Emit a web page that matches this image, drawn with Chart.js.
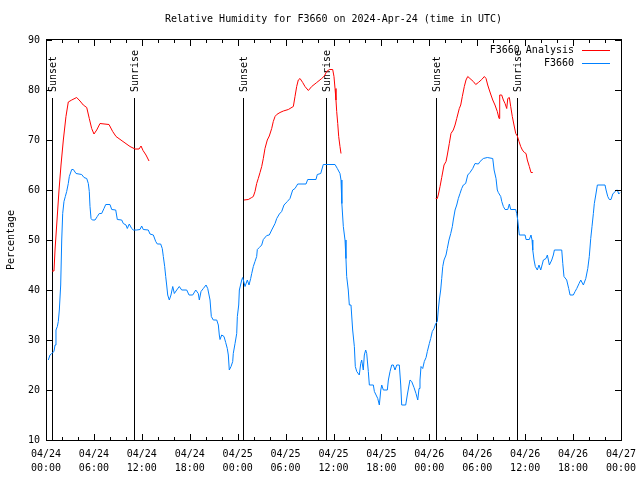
<!DOCTYPE html>
<html><head><meta charset="utf-8">
<script src="https://cdn.jsdelivr.net/npm/chart.js@4.4.1/dist/chart.umd.min.js"></script>
<style>html,body{margin:0;padding:0;background:#fff;overflow:hidden}canvas{display:block}</style>
</head><body><canvas id="c" width="640" height="480"></canvas>
<script>
const titleText = "Relative Humidity for F3660 on 2024-Apr-24 (time in UTC)";
const yTitle = "Percentage";
const dayLabels = ["04/24","04/25","04/26","04/27"];
const timeLabels = ["00:00","06:00","12:00","18:00"];
const seriesNames = ["F3660 Analysis","F3660"];
const seriesColors = ["#ff0000","#0080ff"];
const sunTimes = [0.69, 11.06, 24.71, 35.02, 48.80, 59.02];
const sunNames = ["Sunset","Sunrise","Sunset","Sunrise","Sunset","Sunrise"];

// hours since 04/24 00:00 UTC ; null RH = gap between analysis runs
const analysisHours = [
 0.75,1.0,1.13,1.38,1.63,1.88,2.17,2.5,2.79,3.22,3.84,4.26,4.67,5.10,5.42,5.72,6.01,6.35,6.76,7.89,8.35,8.77,9.64,10.52,11.15,11.65,11.90,12.15,12.52,12.90,
 18,
 24.79,25.33,25.76,25.96,26.17,26.38,26.58,26.80,27.01,27.21,27.42,27.71,27.96,28.26,28.46,28.68,28.89,29.30,29.72,30.34,30.97,31.18,31.39,31.59,31.81,32.14,32.43,32.85,33.27,33.90,34.52,34.85,35.15,35.48,35.90,36.06,36.19,36.31,36.40,36.53,36.65,36.81,36.94,
 42,
 48.80,49.00,49.12,49.34,49.55,49.84,50.09,50.25,50.50,50.71,51.00,51.22,51.43,51.75,51.93,52.13,52.38,52.59,52.81,53.09,53.51,53.81,54.14,54.56,54.89,55.10,55.31,55.51,55.72,55.94,56.22,56.51,56.73,56.81,57.06,57.27,57.48,57.69,57.82,58.02,58.19,58.39,58.60,58.82,59.02,59.23,59.44,59.65,59.90,60.11,60.27,60.52,60.73,60.95
];
const analysisRH = [
 43.8,43.8,48,54,60,65,70,74.7,77.6,78,78.5,77.8,77,76.5,74.3,72.3,71.2,72,73.3,73.1,71.7,70.7,69.7,68.7,68.2,68.2,68.8,67.9,67,65.8,
 null,
 58,58.1,58.5,58.7,59.7,61.3,62.3,63.5,64.7,66.3,68.3,70,70.8,72.3,73.7,74.7,75.1,75.5,75.8,76.1,76.7,78.7,80.7,82,82.3,81.5,80.7,79.9,80.7,81.5,82.3,82.8,83.7,84.1,84.1,82.7,80.3,78,75.7,73.3,70.7,68.7,67.3,
 null,
 58.3,58.3,59,60.7,62.5,65,65.7,67,69.3,71.3,72,73,74.3,76.3,77,78.7,80.7,82,82.7,82.3,81.7,81.1,81.5,82.1,82.7,82.3,81,80,79,78,77,75.7,74.3,79,79,78,77.3,76.3,78.3,78.5,76.7,74.7,73,71.3,70.8,69.7,68.7,68,67.5,67.3,66,64.7,63.5,63.5
];

const obsHours = [
 0.29,0.50,0.71,1.00,1.13,1.25,1.42,1.54,1.67,1.84,1.97,2.09,2.25,2.42,2.59,2.79,2.92,3.22,3.42,3.76,4.47,4.76,5.10,5.30,5.42,5.51,5.64,5.80,6.14,6.42,6.67,6.97,7.26,7.48,8.01,8.23,8.73,8.93,9.48,9.68,10.02,10.18,10.43,10.73,10.93,11.36,11.77,11.98,12.18,12.81,13.02,13.44,13.74,13.94,14.36,14.56,14.69,14.86,14.99,15.11,15.24,15.44,15.65,15.87,16.07,16.37,16.69,16.99,17.62,17.91,18.37,18.75,19.07,19.20,19.41,19.70,20.04,20.25,20.54,20.70,20.95,21.38,21.58,21.70,21.79,22.00,22.29,22.50,22.70,22.83,22.95,23.17,23.38,23.45,23.67,23.88,23.96,24.13,24.21,24.29,24.51,24.63,24.92,25.21,25.42,25.63,25.76,25.96,26.17,26.38,26.46,26.71,27.01,27.21,27.64,27.96,28.26,28.68,28.89,29.22,29.51,29.80,30.22,30.55,30.89,31.18,31.52,32.56,32.77,33.81,33.97,34.40,34.72,36.19,36.48,36.81,36.94,37.03,37.06,37.23,37.44,37.56,37.65,37.85,37.98,38.19,38.40,38.61,38.73,38.91,39.23,39.41,39.53,39.73,39.86,40.03,40.16,40.36,40.49,40.99,41.12,41.33,41.54,41.74,41.92,42.04,42.24,42.74,42.87,43.08,43.29,43.49,43.70,43.92,44.24,44.42,44.54,45.04,45.24,45.46,45.58,45.79,46.08,46.33,46.55,46.71,46.83,46.96,47.17,47.37,47.59,47.75,48.00,48.17,48.37,48.59,48.80,49.00,49.12,49.25,49.42,49.55,49.68,49.84,50.09,50.25,50.46,50.68,50.88,51.00,51.22,51.43,51.63,51.84,52.05,52.26,52.55,52.81,53.09,53.43,53.72,54.14,54.35,54.76,55.26,55.94,56.11,56.35,56.51,56.64,56.94,57.07,57.27,57.48,57.82,58.02,58.19,58.82,58.94,59.07,59.20,59.27,59.99,60.11,60.52,60.73,60.86,60.95,61.11,61.27,61.52,61.73,61.95,62.28,62.61,62.78,63.03,63.33,63.53,63.66,64.58,64.71,64.86,65.20,65.45,65.62,66.03,66.25,66.46,66.75,66.96,67.29,67.59,67.84,68.03,68.21,68.37,68.54,68.66,68.84,69.04,70.00,70.13,70.34,70.54,70.75,70.97,71.38,71.54,71.72,71.88
];
const obsRH = [
 26,27,27.3,27.7,29,32,32.7,33.7,36,41,50,55.3,57.7,58.7,59.7,61.3,62.7,64.1,64.1,63.3,63.1,62.5,62.3,61.3,59.7,56.7,54.3,54,54,54.7,55.3,55.3,56.3,57.1,57.1,56.1,56,54.1,54,53.3,53,52.3,53.2,52.3,52,52,52.1,52.8,52.1,52,51.2,51,49.7,49.2,49.2,48.3,46.7,44.7,42.7,41,39,38,39,40.7,39.3,40,40.7,40,40,39,39,40,39.3,38,39.7,40.3,41,40.3,38,34.7,34,34,33,31,30.1,31,30.7,29.5,28.3,27,24,24.7,25.7,27.3,29.3,31.3,34.7,37,40,40,42,42.5,40.7,42,41,42.3,43.3,44.7,45.7,46.7,48.1,48.5,49,50.1,50.9,51,52,53.3,54.3,55.2,55.7,57,57.7,58.3,60,60.3,61.2,61.2,62.1,62.1,63.1,63.3,65.1,65.1,64.3,63.3,62,60,57.3,52.7,50,46.3,42.7,40,37,37,32,28.7,24.7,23.7,23,25.3,26,24,27,28,27.3,23.7,21,21,19.7,19,18.3,17,20,21,20,20,22,23.7,25,25,24,25,25,21,17,17,19,21,22,21.7,20.5,19.3,18,20.3,22,24.7,24.3,25.7,26.5,27.7,29.3,30.3,31.7,32.3,33.3,33.7,36,38,40,42.3,44.7,46,47,48.3,50,51.3,52.7,54,56,57,58.3,59.3,60.3,61,61.3,63,63.5,64.3,65.3,65.2,65.7,66.3,66.5,66.3,64,62.3,60,59.5,58.7,57.7,56.7,56.1,56.1,57.2,56.1,56.1,55.3,54,52,51,51,50.1,50.1,51,50,48,46,44.7,44,45,44,46,46.3,47,45,46,47,48,48,45.3,42.7,42,40.3,39,39,39.7,40.3,41.3,42,41,42.3,44.3,46.7,50.3,52.7,55.3,57.3,59,61,61,60,58.7,58.1,58.1,59.2,59.9,60,59.2,59.5
];

const FONT = '"DejaVu Sans Mono", "Liberation Mono", monospace';
const toPts = (hs, vs) => hs.map((h, i) => ({x: h, y: vs[i]}));

const decor = {
  id: 'decor',
  beforeDatasetsDraw(chart) {
    const {ctx, chartArea: a, scales: {x, y}} = chart;
    ctx.save();
    ctx.strokeStyle = '#000'; ctx.lineWidth = 1; ctx.fillStyle = '#000';
    ctx.font = '10px ' + FONT;
    const topY = Math.round(y.getPixelForValue(78.4));
    sunTimes.forEach((t, i) => {
      const px = Math.round(x.getPixelForValue(t)) + 0.5;
      ctx.beginPath(); ctx.moveTo(px, a.bottom); ctx.lineTo(px, topY); ctx.stroke();
      ctx.save(); ctx.translate(px + 1, topY - 6); ctx.rotate(-Math.PI / 2);
      ctx.textAlign = 'left'; ctx.textBaseline = 'middle';
      ctx.fillText(sunNames[i], 0, 0); ctx.restore();
    });
    ctx.restore();
  },
  afterDatasetsDraw(chart) {
    const {ctx, chartArea: a, scales: {x, y}} = chart;
    ctx.save();
    ctx.strokeStyle = '#000'; ctx.lineWidth = 1;
    ctx.strokeRect(a.left + 0.5, a.top - 0.5, a.right - a.left, a.bottom - a.top + 1);
    ctx.beginPath();
    for (let v = x.min; v <= x.max; v += 2) {
      const px = Math.round(x.getPixelForValue(v)) + 0.5;
      const len = (v % 6 === 0) ? 6 : 3;
      ctx.moveTo(px, a.bottom); ctx.lineTo(px, a.bottom - len);
      ctx.moveTo(px, a.top); ctx.lineTo(px, a.top + len);
    }
    for (let v = y.min; v <= y.max; v += 10) {
      const py = Math.round(y.getPixelForValue(v)) + 0.5;
      ctx.moveTo(a.left, py); ctx.lineTo(a.left + 6, py);
      ctx.moveTo(a.right, py); ctx.lineTo(a.right - 6, py);
    }
    ctx.stroke();
    // legend
    ctx.font = '10px ' + FONT; ctx.fillStyle = '#000';
    ctx.textAlign = 'right'; ctx.textBaseline = 'middle';
    seriesNames.forEach((n, i) => {
      const ry = a.top + 10 + i * 13;
      ctx.fillText(n, a.right - 47, ry);
      ctx.strokeStyle = seriesColors[i];
      ctx.beginPath(); ctx.moveTo(a.right - 39, ry + 0.5); ctx.lineTo(a.right - 11, ry + 0.5); ctx.stroke();
    });
    // titles
    ctx.fillStyle = '#000'; ctx.textAlign = 'center';
    ctx.fillText(titleText, (a.left + a.right) / 2, 19);
    ctx.save(); ctx.translate(11, (a.top + a.bottom) / 2); ctx.rotate(-Math.PI / 2);
    ctx.fillText(yTitle, 0, 0); ctx.restore();
    ctx.restore();
  }
};

new Chart(document.getElementById('c'), {
  type: 'line',
  data: {
    datasets: [
      {label: seriesNames[0], data: toPts(analysisHours, analysisRH), borderColor: seriesColors[0], borderWidth: 1, pointRadius: 0, tension: 0, spanGaps: false},
      {label: seriesNames[1], data: toPts(obsHours, obsRH), borderColor: seriesColors[1], borderWidth: 1, pointRadius: 0, tension: 0, spanGaps: false}
    ]
  },
  options: {
    responsive: false, animation: false, devicePixelRatio: 1,
    layout: {padding: {top: 40, right: 19, left: 0, bottom: 0}},
    plugins: {legend: {display: false}, title: {display: false}, tooltip: {enabled: false}},
    scales: {
      x: {
        type: 'linear', min: 0, max: 72,
        grid: {display: false, drawTicks: false}, border: {display: false},
        afterFit(s) { s.height = 40; s.paddingLeft = 0; s.paddingRight = 0; },
        ticks: {
          stepSize: 6, autoSkip: false, maxRotation: 0, minRotation: 0, padding: 7, color: '#000',
          font: {family: FONT, size: 10, lineHeight: 1.4},
          callback(v) { return [dayLabels[Math.floor(v / 24)], timeLabels[(v % 24) / 6]]; }
        }
      },
      y: {
        min: 10, max: 90,
        grid: {display: false, drawTicks: false}, border: {display: false},
        afterFit(s) { s.width = 46; s.paddingTop = 0; s.paddingBottom = 0; },
        ticks: {stepSize: 10, padding: 6, color: '#000', font: {family: FONT, size: 10}}
      }
    }
  },
  plugins: [decor]
});
</script>
</body></html>
